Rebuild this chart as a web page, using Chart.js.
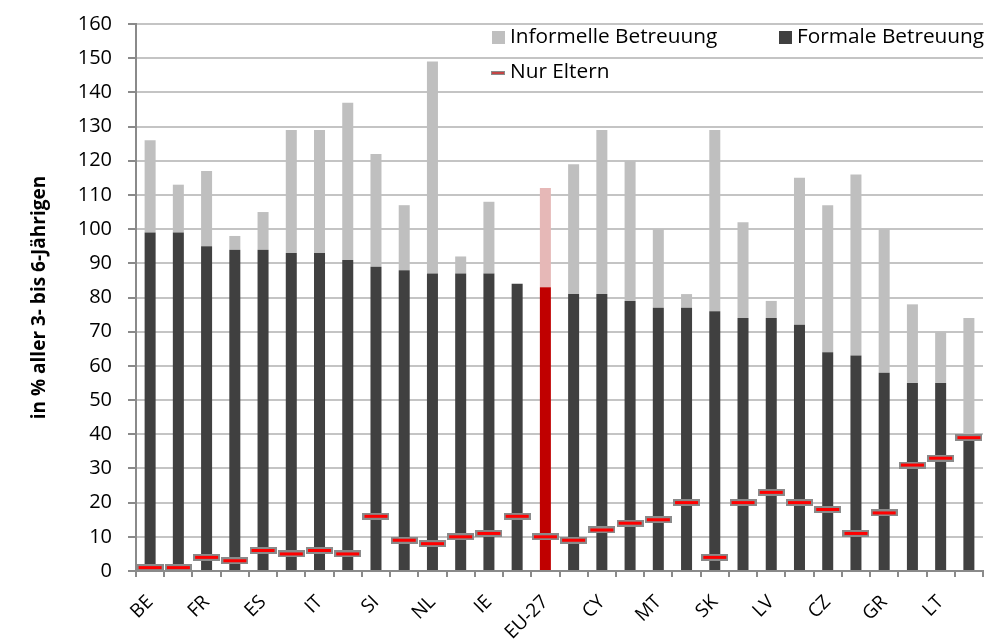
<!DOCTYPE html>
<html><head><meta charset="utf-8">
<script src="https://cdn.jsdelivr.net/npm/chart.js@4/dist/chart.umd.min.js"></script>
<style>html,body{margin:0;padding:0;background:#fff}#wrap{width:998px;height:640px;position:relative}canvas{display:block}</style>
</head><body><div id="wrap"><canvas id="c" width="998" height="640"></canvas></div>
<script>
// Categories (only every other label is printed in the original)
const categories = ['BE','','FR','','ES','','IT','','SI','','NL','','IE','','EU-27','','CY','','MT','','SK','','LV','','CZ','','GR','','LT',''];
// Formale Betreuung (%)
const formal = [99,99,95,94,94,93,93,91,89,88,87,87,87,84,83,81,81,79,77,77,76,74,74,72,64,63,58,55,55,38];
// Informelle Betreuung (%), stacked on top of formal
const informal = [27,14,22,4,11,36,36,46,33,19,62,5,21,0,29,38,48,41,23,4,53,28,5,43,43,53,42,23,15,36];
// Nur Eltern (%)
const parentsOnly = [1,1,4,3,6,5,6,5,16,9,8,10,11,16,10,9,12,14,15,20,4,20,23,20,18,11,17,31,33,39];
// Y axis range
const yMin = 0, yMax = 160, yStep = 10;

const FONT = 'Open Sans';
const highlight = 'EU-27';

// marker image for "Nur Eltern"
const mk = document.createElement('canvas');
mk.width = 27; mk.height = 7;
(function(){const g = mk.getContext('2d');
  g.fillStyle = '#8a8a8a'; g.fillRect(0,0,27,7);
  g.fillStyle = '#ff0000'; g.fillRect(2,2,23,3);})();

const legendPlugin = {
  id: 'customLegend',
  afterDraw(chart) {
    const ctx = chart.ctx;
    ctx.save();
    ctx.font = '20.8px "' + FONT + '"';
    ctx.fillStyle = '#000';
    ctx.textBaseline = 'middle';
    ctx.textAlign = 'left';
    ctx.fillStyle = '#bfbfbf'; ctx.fillRect(492, 31, 13, 13);
    ctx.fillStyle = '#000'; ctx.fillText('Informelle Betreuung', 510, 37);
    ctx.fillStyle = '#404040'; ctx.fillRect(779, 31, 13, 13);
    ctx.fillStyle = '#000'; ctx.fillText('Formale Betreuung', 797, 37);
    ctx.fillStyle = '#8a8a8a'; ctx.fillRect(491, 71, 14, 4);
    ctx.fillStyle = '#ff0000'; ctx.fillRect(492, 72.5, 12, 1);
    ctx.fillStyle = '#000'; ctx.fillText('Nur Eltern', 510, 72);
    ctx.restore();
  }
};

new Chart(document.getElementById('c'), {
  type: 'bar',
  data: {
    labels: categories,
    datasets: [
      {
        label: 'Formale Betreuung',
        data: formal,
        stack: 'care',
        order: 2,
        backgroundColor: ctx => categories[ctx.dataIndex] === highlight ? '#c00000' : '#404040',
        borderWidth: 0,
        categoryPercentage: 1,
        barPercentage: 0.39
      },
      {
        label: 'Informelle Betreuung',
        data: informal,
        stack: 'care',
        order: 2,
        backgroundColor: ctx => categories[ctx.dataIndex] === highlight ? '#e6b8b7' : '#bfbfbf',
        borderWidth: 0,
        categoryPercentage: 1,
        barPercentage: 0.39
      },
      {
        type: 'line',
        label: 'Nur Eltern',
        data: parentsOnly,
        stack: 'eltern',
        order: 0,
        showLine: false,
        pointStyle: mk,
        pointRadius: 6,
        pointHoverRadius: 6
      }
    ]
  },
  options: {
    responsive: false,
    animation: false,
    devicePixelRatio: 1,
    layout: { padding: { top: 24, right: 15, left: 0, bottom: 0 } },
    plugins: { legend: { display: false }, tooltip: { enabled: false } },
    scales: {
      x: {
        stacked: true,
        offset: true,
        grid: { display: true, drawOnChartArea: false, drawTicks: true, tickLength: 6, color: '#8a8a8a', lineWidth: 2, offset: true },
        border: { display: true, color: '#8a8a8a', width: 2 },
        ticks: {
          autoSkip: false, maxRotation: 45, minRotation: 45, padding: 14,
          color: '#000', font: { family: FONT, size: 19 }
        },
        afterFit(scale) { scale.height = 69; scale.paddingLeft = 0; scale.paddingRight = 0; }
      },
      y: {
        stacked: true,
        min: yMin, max: yMax,
        grid: { color: '#c4c4c4', lineWidth: 2, tickLength: 8, tickColor: '#8a8a8a' },
        border: { display: true, color: '#8a8a8a', width: 2 },
        ticks: { stepSize: yStep, padding: 16, color: '#000', font: { family: FONT, size: 20 } },
        title: {
          display: true, text: 'in % aller 3- bis 6-Jährigen', color: '#000',
          font: { family: FONT, size: 19, weight: 'bold' }, padding: { top: 28, bottom: 0 }
        },
        afterFit(scale) { scale.width = 136; scale.paddingTop = 0; scale.paddingBottom = 0; }
      }
    }
  },
  plugins: [legendPlugin]
});
</script>
</body></html>
